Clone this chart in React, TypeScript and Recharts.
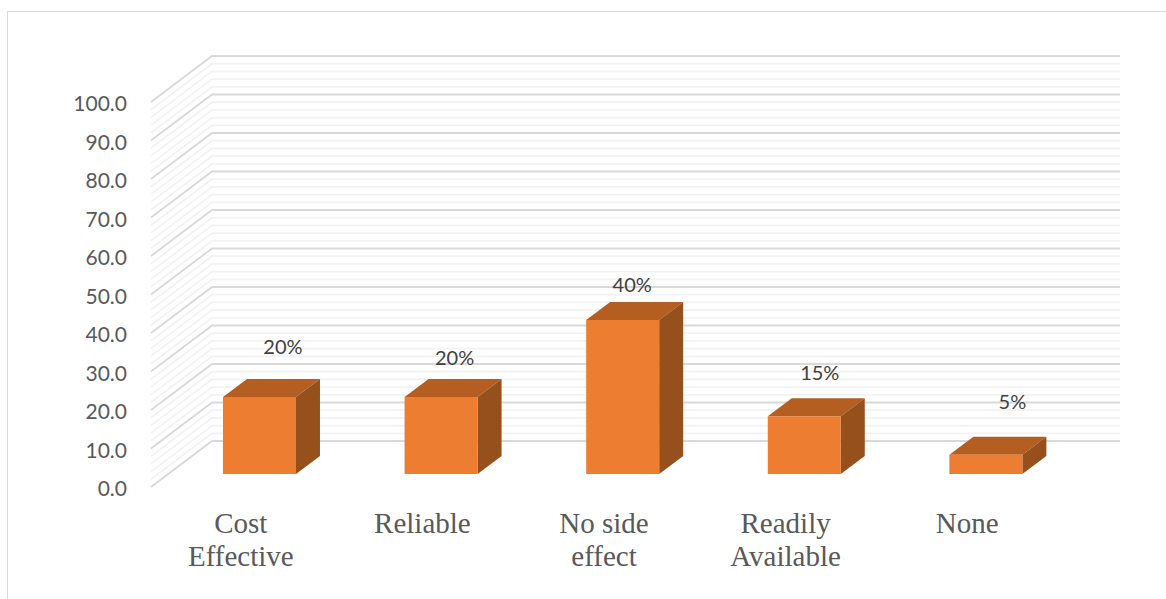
import React from "react";
import { BarChart, Bar, XAxis, YAxis, ReferenceLine, LabelList } from "recharts";

// Survey responses, in percent.
const categories = ["Cost Effective", "Reliable", "No side effect", "Readily Available", "None"];
const shares = [20, 20, 40, 15, 5];
const categoryLines = [["Cost", "Effective"], ["Reliable"], ["No side", "effect"], ["Readily", "Available"], ["None"]];
const yTicks = [0, 10, 20, 30, 40, 50, 60, 70, 80, 90, 100];
const gridLevels = Array.from({ length: 51 }, (_, i) => i * 2);

// Hand-placed label offsets from the centre of each bar's front-plane top.
const labelNudges = [
  { dx: 41, dy: -63 },
  { dx: 31, dy: -52 },
  { dx: 27, dy: -48 },
  { dx: 33, dy: -56 },
  { dx: 44, dy: -66 },
];

const rows = categories.map((name, i) => ({ name, share: shares[i] }));

// Depth of the chart box and the position of the bars inside that depth.
const WALL_DX = 61;
const WALL_DY = -46;
const BAR_DX = 17.5;
const BAR_DY = -13;
const SIDE_DX = 24;
const SIDE_DY = -18;

const FRONT = "#ED7D31";
const TOP = "#B45E22";
const SIDE = "#96501C";

// One grid level: a diagonal across the side wall, then a run along the back wall.
function wallLine(major: boolean) {
  return function WallLine(props: any) {
    const { x1, x2, y1 } = props;
    const left = Math.min(x1, x2);
    const right = Math.max(x1, x2);
    const by = y1 + WALL_DY;
    return (
      <polyline
        points={`${left},${y1} ${left + WALL_DX},${by} ${right + WALL_DX},${by}`}
        fill="none"
        stroke={major ? "#D9D9D9" : "#F2F2F2"}
        strokeWidth={1.8}
      />
    );
  };
}

function Cuboid(props: any) {
  const { x, y, width, height } = props;
  const l = x + BAR_DX;
  const r = l + width;
  const t = y + BAR_DY;
  const b = t + height;
  return (
    <g>
      <polygon points={`${l},${t} ${l + SIDE_DX},${t + SIDE_DY} ${r + SIDE_DX},${t + SIDE_DY} ${r},${t}`} fill={TOP} />
      <polygon points={`${r},${t} ${r + SIDE_DX},${t + SIDE_DY} ${r + SIDE_DX},${b + SIDE_DY} ${r},${b}`} fill={SIDE} />
      <rect x={l} y={t} width={width} height={height} fill={FRONT} />
    </g>
  );
}

function CategoryTick(props: any) {
  const { x, index } = props;
  const lines = categoryLines[index] ?? [];
  return (
    <text x={x - 1} y={533} textAnchor="middle" fontFamily="'Liberation Serif', serif" fontSize={29} fill="#595959">
      {lines.map((line, i) => (
        <tspan key={line} x={x - 1} dy={i === 0 ? 0 : 33}>
          {line}
        </tspan>
      ))}
    </text>
  );
}

function ValueTick(props: any) {
  const { x, y, payload } = props;
  return (
    <text x={x} y={y + 9} textAnchor="end" fontFamily="Lato, sans-serif" fontSize={21} fill="#595959">
      {payload.value.toFixed(1)}
    </text>
  );
}

function ShareLabel(props: any) {
  const { x, y, width, value, index } = props;
  const nudge = labelNudges[index];
  return (
    <text
      x={x + width / 2 + nudge.dx}
      y={y + nudge.dy + 2}
      textAnchor="middle"
      dominantBaseline="middle"
      fontFamily="Lato, sans-serif"
      fontSize={20}
      fill="#404040"
    >
      {`${value}%`}
    </text>
  );
}

export default function App() {
  return (
    <div style={{ position: "absolute", left: 0, top: 0, width: 1166, height: 599, overflow: "hidden", background: "#fff" }}>
      <div
        style={{
          position: "absolute",
          left: 7,
          top: 11,
          width: 1170,
          height: 600,
          borderLeft: "1.5px solid #D9D9D9",
          borderTop: "1.5px solid #D9D9D9",
        }}
      />
      <BarChart
        width={1166}
        height={599}
        data={rows}
        barCategoryGap="30%"
        margin={{ top: 102, right: 107, bottom: 72, left: 91 }}
        style={{ position: "absolute", left: 0, top: 0 }}
      >
        <XAxis dataKey="name" axisLine={false} tickLine={false} interval={0} tick={CategoryTick as any} height={40} />
        <YAxis
          type="number"
          domain={[0, 100]}
          ticks={yTicks}
          interval={0}
          width={60}
          axisLine={false}
          tickLine={false}
          tickMargin={18}
          tick={ValueTick as any}
        />
        {gridLevels
          .filter((v) => v % 10 !== 0)
          .map((v) => (
            <ReferenceLine key={v} y={v} ifOverflow="visible" zIndex={0} shape={wallLine(false) as any} />
          ))}
        {yTicks.map((v) => (
          <ReferenceLine key={`major-${v}`} y={v} ifOverflow="visible" zIndex={0} shape={wallLine(true) as any} />
        ))}
        <Bar dataKey="share" isAnimationActive={false} shape={Cuboid as any}>
          <LabelList dataKey="share" content={ShareLabel as any} />
        </Bar>
      </BarChart>
    </div>
  );
}
